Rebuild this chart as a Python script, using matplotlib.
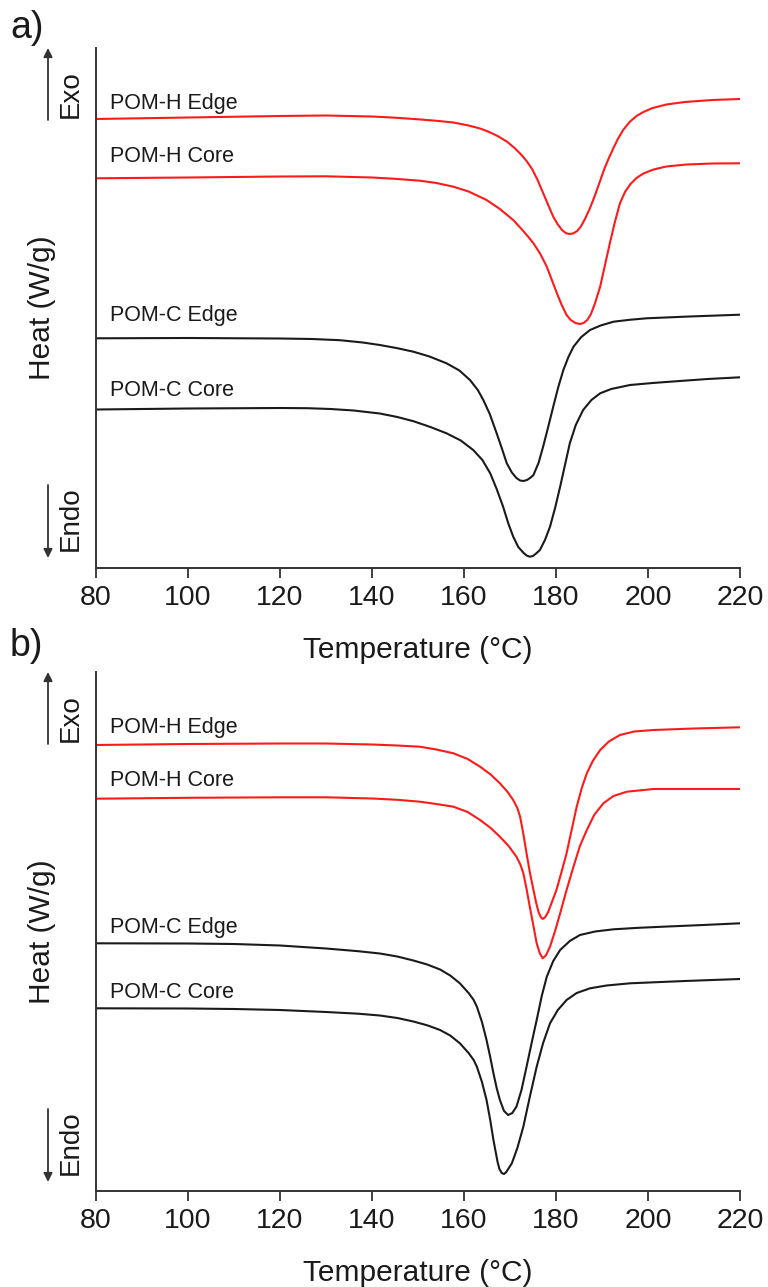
import matplotlib
matplotlib.use("Agg")
import matplotlib.pyplot as plt
from matplotlib.patches import FancyArrowPatch

plt.rcParams['font.family'] = ['Liberation Sans', 'DejaVu Sans']

# Heat flow in arbitrary units (0.01 W/g per unit, curves offset for clarity)
# ---------------- Panel a data ----------------
a_he_T = [80, 100, 120, 130, 140, 145, 150, 154, 157.7, 161, 163.5, 165.5, 167.5, 169.3, 171, 172.5, 173.6, 174.8,
          176, 177.2, 178.4, 179.4, 180.4, 181.3, 182.2, 183, 183.8, 184.6, 185.4, 186.3, 187.4, 188.5, 189.5, 190.5,
          191.5, 192.5, 193.5, 194.6, 196, 197.5, 199, 201, 204, 208, 214, 220]
a_he_v = [449, 450.5, 452, 452.5, 451.5, 450.3, 448.7, 447.2, 445.5, 442.5, 439.5, 436, 431.5, 426.5, 420, 413, 407, 399,
          388, 375, 362, 351.3, 343.5, 338, 334.7, 334, 334.7, 337, 341.5, 349, 360, 373, 386, 399,
          410, 420, 429.5, 438, 446, 452, 456, 460, 463.5, 466, 468, 469]

a_hc_T = [80, 100, 120, 130, 140, 145, 150.4, 154, 157.7, 161, 164.9, 167.8, 170.7, 172.5, 174, 175.1, 176.6, 178,
          179.1, 180.2, 181.2, 182.3, 183.2, 184.2, 185.2, 186, 186.8, 187.6, 188.5, 189.6, 190.6, 191.7, 192.8,
          193.9, 195, 196.2, 197.5, 199, 201.2, 204, 208.4, 214, 220]
a_hc_v = [389.7, 390.5, 391.5, 391.7, 390.5, 389.2, 387.3, 385, 381.3, 376.5, 368, 359, 348, 339, 331, 324.7, 314, 301.3,
          288, 274.7, 263.5, 253, 248, 245, 244, 245, 248, 254, 265, 281.3, 302, 324.7, 346,
          364.7, 376, 384, 390, 394.5, 398.5, 401.5, 403.5, 404.5, 404.7]

a_ce_T = [80, 100, 120, 127, 133, 138, 141.7, 145.5, 149, 152.5, 156.2, 159, 161.3, 163, 164.2, 165.6, 167.1, 168.2, 169.3,
          170.4, 171.4, 172.2, 172.9, 173.7, 174.5, 175.1, 176.2, 177.2, 178.3, 179.4, 180.5, 181.6, 182.7, 183.8,
          185.5, 187.4, 189.7, 192.5, 196, 199.7, 209, 220]
a_ce_v = [229.7, 230, 229.5, 229, 227.8, 225.5, 223, 219.8, 216.3, 211.5, 204.7, 197.5, 188, 178, 168, 154, 134.7, 120, 104.7,
          95.5, 90, 87.5, 87, 88, 90.5, 93, 105, 121.3, 141, 161.3, 181, 198, 211, 221.3,
          231, 238, 242.5, 246.3, 248.2, 249.7, 251.5, 253.3]

a_cc_T = [80, 100, 120, 126, 131, 136, 141.7, 145.5, 149, 152.7, 156.2, 159.3, 162, 164, 165.7, 167.1, 168.5, 169.6, 170.7,
          171.8, 172.9, 173.6, 174.3, 175, 175.8, 176.5, 177.6, 178.7, 179.8, 180.9, 182, 183, 184.3, 185.9, 187.7,
          189.6, 192, 196.1, 201, 206.9, 213, 220]
a_cc_v = [158.5, 159.5, 160, 159.8, 159, 157.5, 154.5, 151, 146.8, 141, 134.7, 127.5, 118, 108, 94.7, 79, 61.3, 45, 31.3,
          21, 15.3, 12.5, 11.3, 12, 15, 18, 28, 41.3, 60, 81.3, 104, 124.7, 143, 158, 168,
          174.7, 179, 183, 185, 187, 189, 190.7]

# ---------------- Panel b data ----------------
b_he_T = [80, 100, 120, 130, 140, 145.5, 150.4, 154, 157.7, 160.8, 163.5, 165.8, 167.8, 169.4, 170.7, 171.6, 172.2,
          172.9, 173.6, 174.3, 175.1, 175.7, 176.2, 176.7, 177.1, 177.6, 178.3, 179.2, 180.1, 181.2, 182.3, 183.4,
          184.5, 185.6, 186.7, 188, 189.6, 191.5, 193.9, 197, 201.2, 210, 220]
b_he_v = [446, 447, 447.5, 447.5, 446.5, 445.5, 444.3, 441.5, 437.7, 432, 424.3, 416.5, 407.7, 399.5, 391, 383, 374.3,
          357, 337.7, 319, 301, 288, 279, 274, 272, 273.5, 279, 290, 301, 319, 337.7, 361,
          384.3, 403, 417.7, 430, 441, 449.5, 456, 459.5, 461, 462.5, 463.7]

b_hc_T = [80, 100, 120, 130, 140, 145.5, 150.4, 154, 157.7, 160.8, 163.5, 165.8, 167.8, 169.7, 171.4, 172.3, 172.9,
          173.6, 174.3, 175.1, 175.8, 176.5, 177.1, 177.8, 178.7, 179.8, 180.9, 182.3, 183.8, 185.2, 186.7, 188.3,
          190.3, 192.5, 195.4, 201.2, 210, 220]
b_hc_v = [392.3, 393.2, 393.7, 393.7, 392.5, 391.2, 389.3, 387, 384.3, 379, 371, 363, 354.3, 345, 334.3, 326, 317.7,
          302, 284.3, 265, 247.7, 237.5, 232.7, 235.5, 244.3, 260, 277.7, 301, 324.3, 345, 361, 376,
          387.7, 395, 399.3, 402, 402, 402]

b_ce_T = [80, 100, 110, 120, 130, 137, 141.7, 145.5, 149, 152, 154.8, 157, 159.1, 161, 162.1, 162.8, 163.9, 164.9, 165.7,
          166.4, 167.1, 167.8, 168.7, 169.6, 170.5, 171.4, 172.5, 173.6, 174.7, 175.8, 176.9, 178, 179.4, 180.9,
          183, 185.2, 188.5, 192.5, 198, 203.3, 212, 220]
b_ce_v = [247.7, 247.5, 247, 245.5, 242.5, 239.8, 237.5, 234.5, 230.5, 226.5, 221.5, 215.5, 207.7, 198, 191, 184.3, 169, 151, 134,
          117.7, 103, 91, 80, 76, 78, 84.3, 101, 124.3, 148, 171, 195, 214.3, 230, 241,
          250, 256, 259.5, 261.7, 263.2, 264.3, 266, 267.7]

b_cc_T = [80, 100, 110, 120, 130, 137, 141.7, 145.5, 149, 152, 154.8, 157, 159.1, 161, 162.1, 162.8, 163.9, 164.9, 165.7, 166.4,
          167.3, 167.7, 168.2, 168.7, 169.2, 170.4, 171.6, 172.9, 174.3, 175.8, 177.2, 178.7, 180.4, 182.3, 184.5,
          187.4, 191, 196.1, 208, 220]
b_cc_v = [182.7, 182.5, 182, 181, 179, 177.3, 175.5, 173, 169.5, 165.7, 161, 155.5, 147.7, 138, 131, 124.3, 109, 91, 71, 51,
          29, 22, 18, 17, 19, 27.7, 43, 64.3, 94, 124.3, 148, 167.7, 181, 191, 198,
          202.7, 205.5, 207.7, 210, 212]

series_names = ["POM-H Edge", "POM-H Core", "POM-C Edge", "POM-C Core"]
series_colors = ["#ff1a1a", "#ff1a1a", "#1a1a1a", "#1a1a1a"]
a_label_y = [465, 411.3, 252, 177]
b_label_y = [463.7, 410.3, 263.7, 199]
x_ticks = [80, 100, 120, 140, 160, 180, 200, 220]

W, H = 768, 1287
fig = plt.figure(figsize=(W / 100, H / 100), dpi=100)


def fx(px):
    return px / W


def fy(py):
    return 1 - py / H


panels = [
    dict(top=48, bottom=568, letter="a)", letter_y=38, ymax=520,
         data=[(a_he_T, a_he_v), (a_hc_T, a_hc_v), (a_ce_T, a_ce_v), (a_cc_T, a_cc_v)], label_y=a_label_y),
    dict(top=672, bottom=1191, letter="b)", letter_y=656, ymax=519,
         data=[(b_he_T, b_he_v), (b_hc_T, b_hc_v), (b_ce_T, b_ce_v), (b_cc_T, b_cc_v)], label_y=b_label_y),
]

left_px, right_px = 96, 740
txt_col = "#1a1a1a"

for p in panels:
    top, bottom = p["top"], p["bottom"]
    ax = fig.add_axes([fx(left_px), fy(bottom), fx(right_px) - fx(left_px), (bottom - top) / H])
    for (T, v), col, name, ly in zip(p["data"], series_colors, series_names, p["label_y"]):
        ax.plot(T, v, color=col, lw=1.5, solid_joinstyle='round', antialiased=True)
        ax.text(83, ly, name, fontsize=15.5, color=txt_col, va='center', ha='left')
    ax.set_xlim(80, 220)
    ax.set_ylim(0, p["ymax"])
    ax.set_xticks(x_ticks)
    ax.tick_params(axis='x', direction='out', length=7, width=1.3, labelsize=20.5, pad=5,
                   colors="#333333", labelcolor=txt_col)
    ax.set_yticks([])
    for s in ["top", "right"]:
        ax.spines[s].set_visible(False)
    for s in ["left", "bottom"]:
        ax.spines[s].set_linewidth(1.4)
        ax.spines[s].set_color("#333333")
    ax.set_xlabel("Temperature (°C)", fontsize=21.5, color=txt_col, va='center')
    ax.xaxis.set_label_coords(0.5, -82 / (bottom - top))
    ax.set_ylabel("Heat (W/g)", fontsize=21.5, color=txt_col, va='center')
    ax.yaxis.set_label_coords((42 - left_px) / (right_px - left_px), 0.5)

    # panel letter
    fig.text(fx(10), fy(p["letter_y"]), p["letter"], fontsize=27, color=txt_col, ha='left', va='baseline')

    # Exo / Endo arrows
    arr = dict(arrowstyle='-|>', color="#333333", lw=1.3, mutation_scale=13, shrinkA=0, shrinkB=0)
    fig.add_artist(FancyArrowPatch((fx(48), fy(top + 72)), (fx(48), fy(top)),
                                   transform=fig.transFigure, **arr))
    fig.add_artist(FancyArrowPatch((fx(48), fy(top + 437)), (fx(48), fy(top + 510)),
                                   transform=fig.transFigure, **arr))
    fig.text(fx(71), fy(top + 46), "Exo", rotation=90, fontsize=20, color=txt_col, ha='center', va='center')
    fig.text(fx(71), fy(top + 471), "Endo", rotation=90, fontsize=20, color=txt_col, ha='center', va='center')

fig.savefig("out.png", dpi=100)
